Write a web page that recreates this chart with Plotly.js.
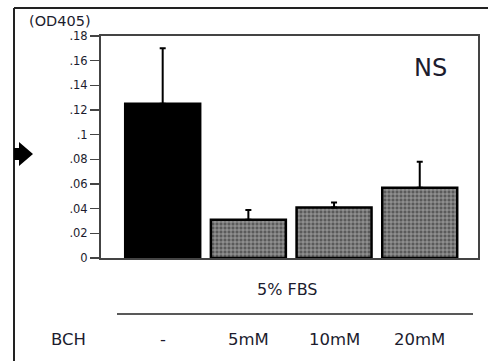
<!DOCTYPE html>
<html>
<head>
<meta charset="utf-8">
<script src="https://cdn.plot.ly/plotly-3.0.1.min.js"></script>
<style>html,body{margin:0;padding:0;background:#fff;}#chart{width:488px;height:361px;}</style>
</head>
<body>
<div id="chart"></div>
<script>
const categories = ["-", "5mM", "10mM", "20mM"];
const values = [0.125, 0.031, 0.041, 0.057];
const errorsUp = [0.045, 0.008, 0.004, 0.021];
const tickVals = [0, 0.02, 0.04, 0.06, 0.08, 0.10, 0.12, 0.14, 0.16, 0.18];
const tickText = ["0", ".02", ".04", ".06", ".08", ".1", ".12", ".14", ".16", ".18"];
const groupLabel = "5% FBS";
const rowLabel = "BCH";
const unitLabel = "(OD405)";
const sigLabel = "NS";

const font = "DejaVu Sans, Liberation Sans, Arial, sans-serif";
const txt = "#1c1c2e";

const trace = {
  type: "bar",
  x: categories,
  y: values,
  width: 0.875,
  marker: {
    color: ["#000000", "#5a5a5a", "#5a5a5a", "#5a5a5a"],
    line: {color: "#000", width: 2.5},
    pattern: {
      shape: ["", "+", "+", "+"],
      fgcolor: "#cccccc",
      bgcolor: "#505050",
      size: 4,
      solidity: 0.35,
      fillmode: "overlay"
    }
  },
  error_y: {
    type: "data",
    symmetric: false,
    array: errorsUp,
    arrayminus: categories.map(() => 0),
    color: "#000",
    thickness: 2,
    width: 3
  },
  hoverinfo: "skip"
};

const annotations = categories.map(c => ({
  x: c, xref: "x", y: -0.365, yref: "paper",
  text: c, showarrow: false, xanchor: "center", yanchor: "middle",
  font: {family: font, size: 16.5, color: txt}
}));
annotations.push(
  {x: -0.0875, xref: "paper", y: -0.365, yref: "paper", text: rowLabel, showarrow: false,
   xanchor: "center", yanchor: "middle", font: {family: font, size: 16.5, color: txt}},
  {x: 0.496, xref: "paper", y: -0.144, yref: "paper", text: groupLabel, showarrow: false,
   xanchor: "center", yanchor: "middle", font: {family: font, size: 16, color: txt}},
  {x: -0.108, xref: "paper", y: 1.068, yref: "paper", text: unitLabel, showarrow: false,
   xanchor: "center", yanchor: "middle", font: {family: font, size: 14.5, color: txt}},
  {x: 0.875, xref: "paper", y: 0.856, yref: "paper", text: sigLabel, showarrow: false,
   xanchor: "center", yanchor: "middle", font: {family: font, size: 24, color: txt}}
);

const px = v => (v - 101) / 377;
const py = v => (258 - v) / 222;

const shapes = [
  {type: "line", xref: "paper", yref: "paper", x0: px(14), x1: px(14), y0: py(8), y1: py(365),
   line: {color: "#222", width: 2}},
  {type: "line", xref: "paper", yref: "paper", x0: px(14), x1: px(492), y0: py(8), y1: py(8),
   line: {color: "#222", width: 2}},
  {type: "line", xref: "paper", yref: "paper", x0: px(117), x1: px(473), y0: py(314), y1: py(314),
   line: {color: "#222", width: 1.5}},
  {type: "path", xref: "paper", yref: "paper",
   path: `M ${px(14)} ${py(148)} L ${px(19)} ${py(148)} L ${px(19)} ${py(142)} L ${px(33)} ${py(154)} L ${px(19)} ${py(166)} L ${px(19)} ${py(160)} L ${px(14)} ${py(160)} Z`,
   fillcolor: "#000", line: {width: 0}}
];

const layout = {
  width: 488, height: 361,
  margin: {l: 101, r: 10, t: 36, b: 103},
  paper_bgcolor: "#fff", plot_bgcolor: "#fff",
  showlegend: false,
  bargap: 0,
  xaxis: {
    type: "category", range: [-0.72, 3.68],
    showticklabels: false, ticks: "", showgrid: false, zeroline: false,
    showline: true, linecolor: "#444", linewidth: 2, mirror: true, fixedrange: true
  },
  yaxis: {
    range: [0, 0.18], tickvals: tickVals, ticktext: tickText,
    ticks: "outside", ticklen: 9, tickwidth: 1.5, tickcolor: "#444",
    tickfont: {family: font, size: 11.5, color: txt},
    showgrid: false, zeroline: false,
    showline: true, linecolor: "#444", linewidth: 2, mirror: true, fixedrange: true
  },
  annotations: annotations,
  shapes: shapes
};

Plotly.newPlot("chart", [trace], layout, {displayModeBar: false, staticPlot: true});
</script>
</body>
</html>
